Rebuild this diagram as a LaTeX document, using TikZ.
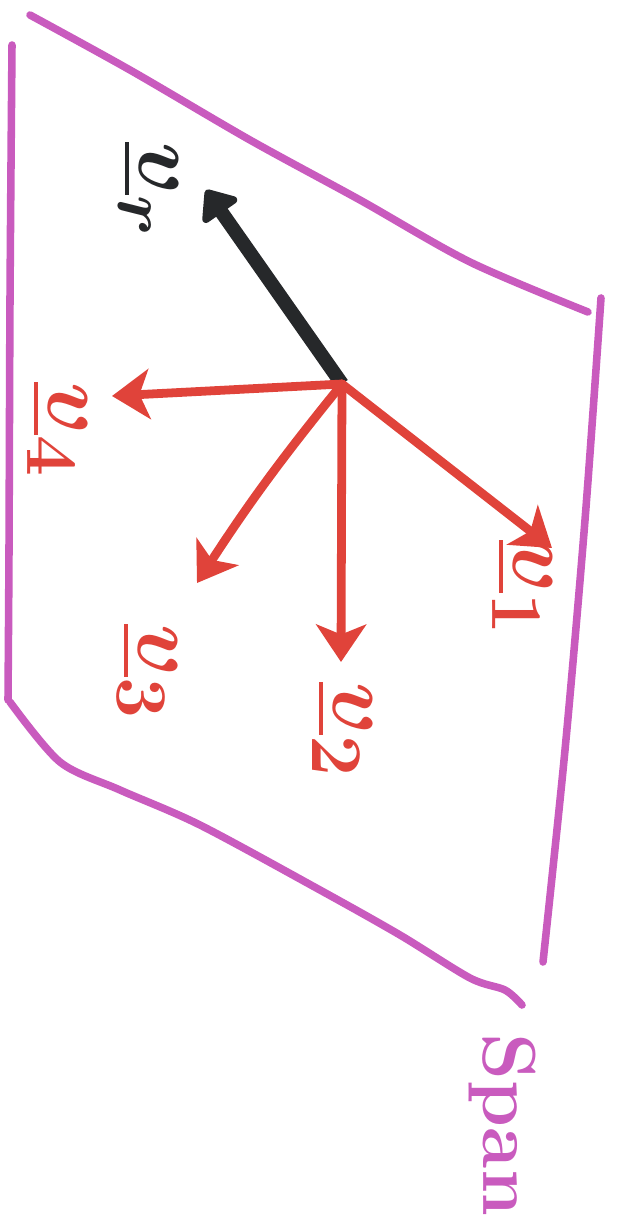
\documentclass[tikz,border=0pt]{standalone}
\usepackage{amsmath}
\usetikzlibrary{arrows.meta,calc}
\definecolor{planepink}{HTML}{C95BBE}
\definecolor{vecred}{HTML}{E0433A}
\definecolor{vecink}{HTML}{26282A}

\begin{document}
\begin{tikzpicture}[
      x=0.02cm, y=-0.02cm,
      plane/.style={draw=planepink, line width=4.3pt, line cap=round, line join=round},
      redarrow/.style={-{Stealth[length=7.5mm,width=10mm,inset=2mm]}, draw=vecred,
                       line width=5pt, line cap=round},
      inkarrow/.style={-{Triangle[length=6mm,width=9.5mm,round]}, draw=vecink,
                       line width=8pt},
      veclabel/.style={rotate=-90, scale=2, font=\Huge\boldmath\bfseries, inner sep=0pt},
    ]
  \useasboundingbox (0,0) rectangle (616,1218);

  % the span, drawn freehand
  \draw[plane] plot[smooth] coordinates {(30,15) (130,70) (250,140) (360,200) (470,262) (588,312)};
  \draw[plane] plot[smooth] coordinates {(12,45) (10,300) (9,550) (8,700)};
  \draw[plane] plot[smooth] coordinates {(601,298) (585,520) (565,750) (543,962)};
  \draw[plane] plot[smooth] coordinates {(10,702) (60,762) (120,790) (200,825) (320,890)
                                         (400,935) (470,978) (505,990) (522,1005)};

  \coordinate (o) at (342,384);
  \coordinate (tipr) at (206,190);
  \coordinate (tip1) at (552,548);
  \coordinate (tip2) at (341,662);
  \coordinate (tip3) at (197,583);
  \coordinate (tip4) at (112,396);

  \node[veclabel, text=vecink] (lblr) at (148,190) {$\underline{v}_r$};
  \node[veclabel, text=vecred] (lbl1) at (522,588) {$\underline{v}_1$};
  \node[veclabel, text=vecred] (lbl2) at (342,730) {$\underline{v}_2$};
  \node[veclabel, text=vecred] (lbl3) at (147,672) {$\underline{v}_3$};
  \node[veclabel, text=vecred] (lbl4) at (57,430) {$\underline{v}_4$};
  \node[veclabel, text=planepink, scale=0.86] (span) at (502,1125) {Span};

  \draw[inkarrow] (o) -- (tipr);
  \draw[redarrow] (o) -- (tip1);
  \draw[redarrow] (o) -- (tip2);
  \draw[redarrow] (o) to[bend right=3] (tip3);
  \draw[redarrow] (o) -- (tip4);
\end{tikzpicture}
\end{document}
